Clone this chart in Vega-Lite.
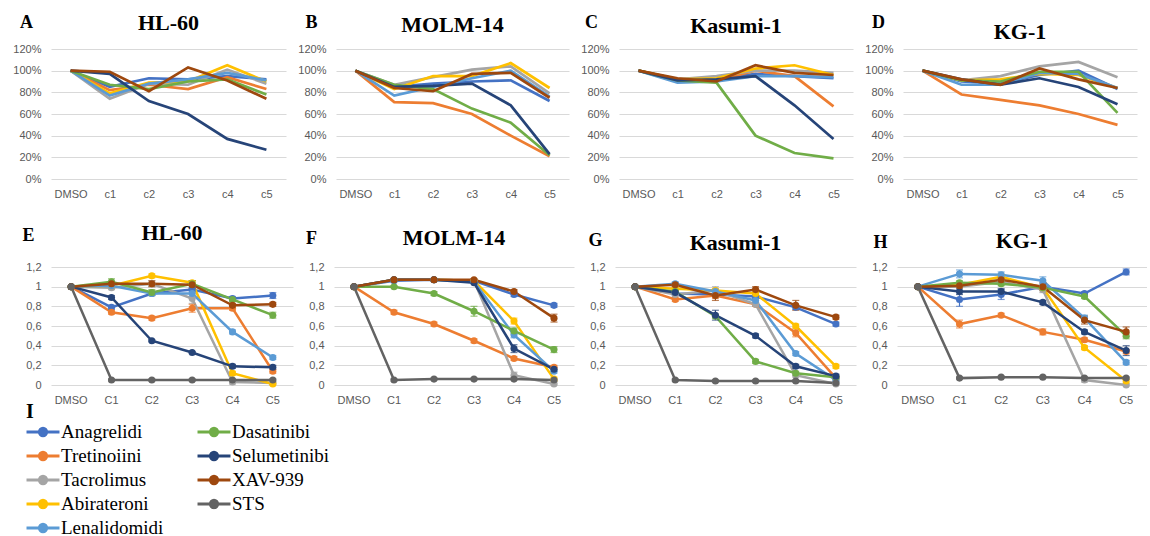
{
"$schema": "https://vega.github.io/schema/vega-lite/v6.json",
"padding": {"left": 12, "top": 12, "right": 0, "bottom": 0},
"background": "white",
"datasets": {
"top": [
{"p":"A","d":"Anagrelidi","c":"DMSO","v":1},{"p":"A","d":"Anagrelidi","c":"c1","v":0.85},{"p":"A","d":"Anagrelidi","c":"c2","v":0.93},{"p":"A","d":"Anagrelidi","c":"c3","v":0.92},{"p":"A","d":"Anagrelidi","c":"c4","v":0.95},{"p":"A","d":"Anagrelidi","c":"c5","v":0.92},
{"p":"A","d":"Tretinoiini","c":"DMSO","v":1},{"p":"A","d":"Tretinoiini","c":"c1","v":0.82},{"p":"A","d":"Tretinoiini","c":"c2","v":0.87},{"p":"A","d":"Tretinoiini","c":"c3","v":0.83},{"p":"A","d":"Tretinoiini","c":"c4","v":0.94},{"p":"A","d":"Tretinoiini","c":"c5","v":0.83},
{"p":"A","d":"Tacrolimus","c":"DMSO","v":1},{"p":"A","d":"Tacrolimus","c":"c1","v":0.74},{"p":"A","d":"Tacrolimus","c":"c2","v":0.88},{"p":"A","d":"Tacrolimus","c":"c3","v":0.87},{"p":"A","d":"Tacrolimus","c":"c4","v":1.01},{"p":"A","d":"Tacrolimus","c":"c5","v":0.88},
{"p":"A","d":"Abirateroni","c":"DMSO","v":1},{"p":"A","d":"Abirateroni","c":"c1","v":0.79},{"p":"A","d":"Abirateroni","c":"c2","v":0.89},{"p":"A","d":"Abirateroni","c":"c3","v":0.9},{"p":"A","d":"Abirateroni","c":"c4","v":1.05},{"p":"A","d":"Abirateroni","c":"c5","v":0.9},
{"p":"A","d":"Lenalidomidi","c":"DMSO","v":1},{"p":"A","d":"Lenalidomidi","c":"c1","v":0.77},{"p":"A","d":"Lenalidomidi","c":"c2","v":0.88},{"p":"A","d":"Lenalidomidi","c":"c3","v":0.92},{"p":"A","d":"Lenalidomidi","c":"c4","v":0.98},{"p":"A","d":"Lenalidomidi","c":"c5","v":0.91},
{"p":"A","d":"Dasatinibi","c":"DMSO","v":1},{"p":"A","d":"Dasatinibi","c":"c1","v":0.87},{"p":"A","d":"Dasatinibi","c":"c2","v":0.83},{"p":"A","d":"Dasatinibi","c":"c3","v":0.9},{"p":"A","d":"Dasatinibi","c":"c4","v":0.92},{"p":"A","d":"Dasatinibi","c":"c5","v":0.78},
{"p":"A","d":"Selumetinibi","c":"DMSO","v":1},{"p":"A","d":"Selumetinibi","c":"c1","v":0.97},{"p":"A","d":"Selumetinibi","c":"c2","v":0.72},{"p":"A","d":"Selumetinibi","c":"c3","v":0.6},{"p":"A","d":"Selumetinibi","c":"c4","v":0.37},{"p":"A","d":"Selumetinibi","c":"c5","v":0.27},
{"p":"A","d":"XAV-939","c":"DMSO","v":1},{"p":"A","d":"XAV-939","c":"c1","v":0.99},{"p":"A","d":"XAV-939","c":"c2","v":0.81},{"p":"A","d":"XAV-939","c":"c3","v":1.03},{"p":"A","d":"XAV-939","c":"c4","v":0.91},{"p":"A","d":"XAV-939","c":"c5","v":0.74},
{"p":"B","d":"Anagrelidi","c":"DMSO","v":1},{"p":"B","d":"Anagrelidi","c":"c1","v":0.85},{"p":"B","d":"Anagrelidi","c":"c2","v":0.88},{"p":"B","d":"Anagrelidi","c":"c3","v":0.9},{"p":"B","d":"Anagrelidi","c":"c4","v":0.91},{"p":"B","d":"Anagrelidi","c":"c5","v":0.72},
{"p":"B","d":"Tretinoiini","c":"DMSO","v":1},{"p":"B","d":"Tretinoiini","c":"c1","v":0.71},{"p":"B","d":"Tretinoiini","c":"c2","v":0.7},{"p":"B","d":"Tretinoiini","c":"c3","v":0.6},{"p":"B","d":"Tretinoiini","c":"c4","v":0.4},{"p":"B","d":"Tretinoiini","c":"c5","v":0.21},
{"p":"B","d":"Tacrolimus","c":"DMSO","v":1},{"p":"B","d":"Tacrolimus","c":"c1","v":0.87},{"p":"B","d":"Tacrolimus","c":"c2","v":0.94},{"p":"B","d":"Tacrolimus","c":"c3","v":1.01},{"p":"B","d":"Tacrolimus","c":"c4","v":1.04},{"p":"B","d":"Tacrolimus","c":"c5","v":0.79},
{"p":"B","d":"Abirateroni","c":"DMSO","v":1},{"p":"B","d":"Abirateroni","c":"c1","v":0.83},{"p":"B","d":"Abirateroni","c":"c2","v":0.95},{"p":"B","d":"Abirateroni","c":"c3","v":0.95},{"p":"B","d":"Abirateroni","c":"c4","v":1.07},{"p":"B","d":"Abirateroni","c":"c5","v":0.84},
{"p":"B","d":"Lenalidomidi","c":"DMSO","v":1},{"p":"B","d":"Lenalidomidi","c":"c1","v":0.77},{"p":"B","d":"Lenalidomidi","c":"c2","v":0.85},{"p":"B","d":"Lenalidomidi","c":"c3","v":0.93},{"p":"B","d":"Lenalidomidi","c":"c4","v":1.0},{"p":"B","d":"Lenalidomidi","c":"c5","v":0.76},
{"p":"B","d":"Dasatinibi","c":"DMSO","v":1},{"p":"B","d":"Dasatinibi","c":"c1","v":0.87},{"p":"B","d":"Dasatinibi","c":"c2","v":0.83},{"p":"B","d":"Dasatinibi","c":"c3","v":0.65},{"p":"B","d":"Dasatinibi","c":"c4","v":0.52},{"p":"B","d":"Dasatinibi","c":"c5","v":0.22},
{"p":"B","d":"Selumetinibi","c":"DMSO","v":1},{"p":"B","d":"Selumetinibi","c":"c1","v":0.85},{"p":"B","d":"Selumetinibi","c":"c2","v":0.86},{"p":"B","d":"Selumetinibi","c":"c3","v":0.88},{"p":"B","d":"Selumetinibi","c":"c4","v":0.68},{"p":"B","d":"Selumetinibi","c":"c5","v":0.23},
{"p":"B","d":"XAV-939","c":"DMSO","v":1},{"p":"B","d":"XAV-939","c":"c1","v":0.84},{"p":"B","d":"XAV-939","c":"c2","v":0.81},{"p":"B","d":"XAV-939","c":"c3","v":0.97},{"p":"B","d":"XAV-939","c":"c4","v":0.98},{"p":"B","d":"XAV-939","c":"c5","v":0.75},
{"p":"C","d":"Anagrelidi","c":"DMSO","v":1},{"p":"C","d":"Anagrelidi","c":"c1","v":0.9},{"p":"C","d":"Anagrelidi","c":"c2","v":0.92},{"p":"C","d":"Anagrelidi","c":"c3","v":0.97},{"p":"C","d":"Anagrelidi","c":"c4","v":0.95},{"p":"C","d":"Anagrelidi","c":"c5","v":0.93},
{"p":"C","d":"Tretinoiini","c":"DMSO","v":1},{"p":"C","d":"Tretinoiini","c":"c1","v":0.92},{"p":"C","d":"Tretinoiini","c":"c2","v":0.91},{"p":"C","d":"Tretinoiini","c":"c3","v":1.0},{"p":"C","d":"Tretinoiini","c":"c4","v":0.95},{"p":"C","d":"Tretinoiini","c":"c5","v":0.67},
{"p":"C","d":"Tacrolimus","c":"DMSO","v":1},{"p":"C","d":"Tacrolimus","c":"c1","v":0.92},{"p":"C","d":"Tacrolimus","c":"c2","v":0.95},{"p":"C","d":"Tacrolimus","c":"c3","v":1.0},{"p":"C","d":"Tacrolimus","c":"c4","v":1.0},{"p":"C","d":"Tacrolimus","c":"c5","v":0.98},
{"p":"C","d":"Abirateroni","c":"DMSO","v":1},{"p":"C","d":"Abirateroni","c":"c1","v":0.92},{"p":"C","d":"Abirateroni","c":"c2","v":0.93},{"p":"C","d":"Abirateroni","c":"c3","v":1.02},{"p":"C","d":"Abirateroni","c":"c4","v":1.05},{"p":"C","d":"Abirateroni","c":"c5","v":0.96},
{"p":"C","d":"Lenalidomidi","c":"DMSO","v":1},{"p":"C","d":"Lenalidomidi","c":"c1","v":0.89},{"p":"C","d":"Lenalidomidi","c":"c2","v":0.9},{"p":"C","d":"Lenalidomidi","c":"c3","v":0.95},{"p":"C","d":"Lenalidomidi","c":"c4","v":0.95},{"p":"C","d":"Lenalidomidi","c":"c5","v":0.94},
{"p":"C","d":"Dasatinibi","c":"DMSO","v":1},{"p":"C","d":"Dasatinibi","c":"c1","v":0.91},{"p":"C","d":"Dasatinibi","c":"c2","v":0.89},{"p":"C","d":"Dasatinibi","c":"c3","v":0.4},{"p":"C","d":"Dasatinibi","c":"c4","v":0.24},{"p":"C","d":"Dasatinibi","c":"c5","v":0.19},
{"p":"C","d":"Selumetinibi","c":"DMSO","v":1},{"p":"C","d":"Selumetinibi","c":"c1","v":0.91},{"p":"C","d":"Selumetinibi","c":"c2","v":0.92},{"p":"C","d":"Selumetinibi","c":"c3","v":0.95},{"p":"C","d":"Selumetinibi","c":"c4","v":0.68},{"p":"C","d":"Selumetinibi","c":"c5","v":0.37},
{"p":"C","d":"XAV-939","c":"DMSO","v":1},{"p":"C","d":"XAV-939","c":"c1","v":0.93},{"p":"C","d":"XAV-939","c":"c2","v":0.9},{"p":"C","d":"XAV-939","c":"c3","v":1.05},{"p":"C","d":"XAV-939","c":"c4","v":0.98},{"p":"C","d":"XAV-939","c":"c5","v":0.96},
{"p":"D","d":"Anagrelidi","c":"DMSO","v":1},{"p":"D","d":"Anagrelidi","c":"c1","v":0.9},{"p":"D","d":"Anagrelidi","c":"c2","v":0.88},{"p":"D","d":"Anagrelidi","c":"c3","v":0.96},{"p":"D","d":"Anagrelidi","c":"c4","v":1.0},{"p":"D","d":"Anagrelidi","c":"c5","v":0.83},
{"p":"D","d":"Tretinoiini","c":"DMSO","v":1},{"p":"D","d":"Tretinoiini","c":"c1","v":0.78},{"p":"D","d":"Tretinoiini","c":"c2","v":0.73},{"p":"D","d":"Tretinoiini","c":"c3","v":0.68},{"p":"D","d":"Tretinoiini","c":"c4","v":0.6},{"p":"D","d":"Tretinoiini","c":"c5","v":0.5},
{"p":"D","d":"Tacrolimus","c":"DMSO","v":1},{"p":"D","d":"Tacrolimus","c":"c1","v":0.91},{"p":"D","d":"Tacrolimus","c":"c2","v":0.95},{"p":"D","d":"Tacrolimus","c":"c3","v":1.04},{"p":"D","d":"Tacrolimus","c":"c4","v":1.08},{"p":"D","d":"Tacrolimus","c":"c5","v":0.94},
{"p":"D","d":"Abirateroni","c":"DMSO","v":1},{"p":"D","d":"Abirateroni","c":"c1","v":0.91},{"p":"D","d":"Abirateroni","c":"c2","v":0.92},{"p":"D","d":"Abirateroni","c":"c3","v":0.97},{"p":"D","d":"Abirateroni","c":"c4","v":0.96},{"p":"D","d":"Abirateroni","c":"c5","v":0.84},
{"p":"D","d":"Lenalidomidi","c":"DMSO","v":1},{"p":"D","d":"Lenalidomidi","c":"c1","v":0.87},{"p":"D","d":"Lenalidomidi","c":"c2","v":0.87},{"p":"D","d":"Lenalidomidi","c":"c3","v":0.98},{"p":"D","d":"Lenalidomidi","c":"c4","v":0.97},{"p":"D","d":"Lenalidomidi","c":"c5","v":0.84},
{"p":"D","d":"Dasatinibi","c":"DMSO","v":1},{"p":"D","d":"Dasatinibi","c":"c1","v":0.91},{"p":"D","d":"Dasatinibi","c":"c2","v":0.9},{"p":"D","d":"Dasatinibi","c":"c3","v":0.99},{"p":"D","d":"Dasatinibi","c":"c4","v":0.99},{"p":"D","d":"Dasatinibi","c":"c5","v":0.61},
{"p":"D","d":"Selumetinibi","c":"DMSO","v":1},{"p":"D","d":"Selumetinibi","c":"c1","v":0.92},{"p":"D","d":"Selumetinibi","c":"c2","v":0.87},{"p":"D","d":"Selumetinibi","c":"c3","v":0.93},{"p":"D","d":"Selumetinibi","c":"c4","v":0.85},{"p":"D","d":"Selumetinibi","c":"c5","v":0.69},
{"p":"D","d":"XAV-939","c":"DMSO","v":1},{"p":"D","d":"XAV-939","c":"c1","v":0.92},{"p":"D","d":"XAV-939","c":"c2","v":0.87},{"p":"D","d":"XAV-939","c":"c3","v":1.02},{"p":"D","d":"XAV-939","c":"c4","v":0.92},{"p":"D","d":"XAV-939","c":"c5","v":0.84}
],
"bot": [
{"p":"E","d":"Anagrelidi","c":"DMSO","v":1,"e":0},{"p":"E","d":"Anagrelidi","c":"C1","v":0.79,"e":0.02},{"p":"E","d":"Anagrelidi","c":"C2","v":0.93,"e":0.02},{"p":"E","d":"Anagrelidi","c":"C3","v":0.97,"e":0.02},{"p":"E","d":"Anagrelidi","c":"C4","v":0.88,"e":0.02},{"p":"E","d":"Anagrelidi","c":"C5","v":0.91,"e":0.03},
{"p":"E","d":"Tretinoiini","c":"DMSO","v":1,"e":0},{"p":"E","d":"Tretinoiini","c":"C1","v":0.74,"e":0.02},{"p":"E","d":"Tretinoiini","c":"C2","v":0.68,"e":0.02},{"p":"E","d":"Tretinoiini","c":"C3","v":0.78,"e":0.04},{"p":"E","d":"Tretinoiini","c":"C4","v":0.78,"e":0.02},{"p":"E","d":"Tretinoiini","c":"C5","v":0.14,"e":0.02},
{"p":"E","d":"Tacrolimus","c":"DMSO","v":1,"e":0},{"p":"E","d":"Tacrolimus","c":"C1","v":0.99,"e":0.02},{"p":"E","d":"Tacrolimus","c":"C2","v":1.03,"e":0.03},{"p":"E","d":"Tacrolimus","c":"C3","v":0.88,"e":0.05},{"p":"E","d":"Tacrolimus","c":"C4","v":0.03,"e":0.02},{"p":"E","d":"Tacrolimus","c":"C5","v":0.02,"e":0.01},
{"p":"E","d":"Abirateroni","c":"DMSO","v":1,"e":0},{"p":"E","d":"Abirateroni","c":"C1","v":1.01,"e":0.02},{"p":"E","d":"Abirateroni","c":"C2","v":1.11,"e":0.02},{"p":"E","d":"Abirateroni","c":"C3","v":1.04,"e":0.02},{"p":"E","d":"Abirateroni","c":"C4","v":0.12,"e":0.02},{"p":"E","d":"Abirateroni","c":"C5","v":0.01,"e":0.01},
{"p":"E","d":"Lenalidomidi","c":"DMSO","v":1,"e":0},{"p":"E","d":"Lenalidomidi","c":"C1","v":1.01,"e":0.02},{"p":"E","d":"Lenalidomidi","c":"C2","v":0.93,"e":0.02},{"p":"E","d":"Lenalidomidi","c":"C3","v":0.93,"e":0.03},{"p":"E","d":"Lenalidomidi","c":"C4","v":0.54,"e":0.02},{"p":"E","d":"Lenalidomidi","c":"C5","v":0.28,"e":0.02},
{"p":"E","d":"Dasatinibi","c":"DMSO","v":1,"e":0},{"p":"E","d":"Dasatinibi","c":"C1","v":1.05,"e":0.03},{"p":"E","d":"Dasatinibi","c":"C2","v":0.94,"e":0.03},{"p":"E","d":"Dasatinibi","c":"C3","v":1.03,"e":0.03},{"p":"E","d":"Dasatinibi","c":"C4","v":0.87,"e":0.02},{"p":"E","d":"Dasatinibi","c":"C5","v":0.71,"e":0.03},
{"p":"E","d":"Selumetinibi","c":"DMSO","v":1,"e":0},{"p":"E","d":"Selumetinibi","c":"C1","v":0.89,"e":0.02},{"p":"E","d":"Selumetinibi","c":"C2","v":0.45,"e":0.01},{"p":"E","d":"Selumetinibi","c":"C3","v":0.33,"e":0.01},{"p":"E","d":"Selumetinibi","c":"C4","v":0.19,"e":0.02},{"p":"E","d":"Selumetinibi","c":"C5","v":0.18,"e":0.02},
{"p":"E","d":"XAV-939","c":"DMSO","v":1,"e":0},{"p":"E","d":"XAV-939","c":"C1","v":1.03,"e":0.02},{"p":"E","d":"XAV-939","c":"C2","v":1.03,"e":0.03},{"p":"E","d":"XAV-939","c":"C3","v":1.02,"e":0.04},{"p":"E","d":"XAV-939","c":"C4","v":0.81,"e":0.02},{"p":"E","d":"XAV-939","c":"C5","v":0.82,"e":0.02},
{"p":"E","d":"STS","c":"DMSO","v":1,"e":0},{"p":"E","d":"STS","c":"C1","v":0.05,"e":0.01},{"p":"E","d":"STS","c":"C2","v":0.05,"e":0.01},{"p":"E","d":"STS","c":"C3","v":0.05,"e":0.01},{"p":"E","d":"STS","c":"C4","v":0.05,"e":0.01},{"p":"E","d":"STS","c":"C5","v":0.05,"e":0.01},
{"p":"F","d":"Anagrelidi","c":"DMSO","v":1,"e":0},{"p":"F","d":"Anagrelidi","c":"C1","v":1.06,"e":0.01},{"p":"F","d":"Anagrelidi","c":"C2","v":1.07,"e":0.01},{"p":"F","d":"Anagrelidi","c":"C3","v":1.06,"e":0.01},{"p":"F","d":"Anagrelidi","c":"C4","v":0.92,"e":0.02},{"p":"F","d":"Anagrelidi","c":"C5","v":0.81,"e":0.02},
{"p":"F","d":"Tretinoiini","c":"DMSO","v":1,"e":0},{"p":"F","d":"Tretinoiini","c":"C1","v":0.74,"e":0.02},{"p":"F","d":"Tretinoiini","c":"C2","v":0.62,"e":0.02},{"p":"F","d":"Tretinoiini","c":"C3","v":0.45,"e":0.02},{"p":"F","d":"Tretinoiini","c":"C4","v":0.27,"e":0.02},{"p":"F","d":"Tretinoiini","c":"C5","v":0.18,"e":0.02},
{"p":"F","d":"Tacrolimus","c":"DMSO","v":1,"e":0},{"p":"F","d":"Tacrolimus","c":"C1","v":1.07,"e":0.01},{"p":"F","d":"Tacrolimus","c":"C2","v":1.07,"e":0.01},{"p":"F","d":"Tacrolimus","c":"C3","v":1.06,"e":0.01},{"p":"F","d":"Tacrolimus","c":"C4","v":0.1,"e":0.03},{"p":"F","d":"Tacrolimus","c":"C5","v":0.01,"e":0.01},
{"p":"F","d":"Abirateroni","c":"DMSO","v":1,"e":0},{"p":"F","d":"Abirateroni","c":"C1","v":1.07,"e":0.01},{"p":"F","d":"Abirateroni","c":"C2","v":1.07,"e":0.01},{"p":"F","d":"Abirateroni","c":"C3","v":1.06,"e":0.01},{"p":"F","d":"Abirateroni","c":"C4","v":0.65,"e":0.03},{"p":"F","d":"Abirateroni","c":"C5","v":0.06,"e":0.02},
{"p":"F","d":"Lenalidomidi","c":"DMSO","v":1,"e":0},{"p":"F","d":"Lenalidomidi","c":"C1","v":1.07,"e":0.01},{"p":"F","d":"Lenalidomidi","c":"C2","v":1.07,"e":0.01},{"p":"F","d":"Lenalidomidi","c":"C3","v":1.05,"e":0.01},{"p":"F","d":"Lenalidomidi","c":"C4","v":0.51,"e":0.03},{"p":"F","d":"Lenalidomidi","c":"C5","v":0.14,"e":0.02},
{"p":"F","d":"Dasatinibi","c":"DMSO","v":1,"e":0},{"p":"F","d":"Dasatinibi","c":"C1","v":1.0,"e":0.01},{"p":"F","d":"Dasatinibi","c":"C2","v":0.93,"e":0.02},{"p":"F","d":"Dasatinibi","c":"C3","v":0.75,"e":0.05},{"p":"F","d":"Dasatinibi","c":"C4","v":0.55,"e":0.03},{"p":"F","d":"Dasatinibi","c":"C5","v":0.36,"e":0.03},
{"p":"F","d":"Selumetinibi","c":"DMSO","v":1,"e":0},{"p":"F","d":"Selumetinibi","c":"C1","v":1.07,"e":0.01},{"p":"F","d":"Selumetinibi","c":"C2","v":1.07,"e":0.01},{"p":"F","d":"Selumetinibi","c":"C3","v":1.04,"e":0.01},{"p":"F","d":"Selumetinibi","c":"C4","v":0.37,"e":0.04},{"p":"F","d":"Selumetinibi","c":"C5","v":0.16,"e":0.02},
{"p":"F","d":"XAV-939","c":"DMSO","v":1,"e":0},{"p":"F","d":"XAV-939","c":"C1","v":1.07,"e":0.01},{"p":"F","d":"XAV-939","c":"C2","v":1.07,"e":0.01},{"p":"F","d":"XAV-939","c":"C3","v":1.07,"e":0.01},{"p":"F","d":"XAV-939","c":"C4","v":0.95,"e":0.02},{"p":"F","d":"XAV-939","c":"C5","v":0.68,"e":0.04},
{"p":"F","d":"STS","c":"DMSO","v":1,"e":0},{"p":"F","d":"STS","c":"C1","v":0.05,"e":0.01},{"p":"F","d":"STS","c":"C2","v":0.06,"e":0.01},{"p":"F","d":"STS","c":"C3","v":0.06,"e":0.01},{"p":"F","d":"STS","c":"C4","v":0.06,"e":0.01},{"p":"F","d":"STS","c":"C5","v":0.05,"e":0.01},
{"p":"G","d":"Anagrelidi","c":"DMSO","v":1,"e":0},{"p":"G","d":"Anagrelidi","c":"C1","v":0.93,"e":0.02},{"p":"G","d":"Anagrelidi","c":"C2","v":0.92,"e":0.02},{"p":"G","d":"Anagrelidi","c":"C3","v":0.9,"e":0.02},{"p":"G","d":"Anagrelidi","c":"C4","v":0.79,"e":0.02},{"p":"G","d":"Anagrelidi","c":"C5","v":0.62,"e":0.02},
{"p":"G","d":"Tretinoiini","c":"DMSO","v":1,"e":0},{"p":"G","d":"Tretinoiini","c":"C1","v":0.87,"e":0.02},{"p":"G","d":"Tretinoiini","c":"C2","v":0.91,"e":0.03},{"p":"G","d":"Tretinoiini","c":"C3","v":0.82,"e":0.02},{"p":"G","d":"Tretinoiini","c":"C4","v":0.53,"e":0.04},{"p":"G","d":"Tretinoiini","c":"C5","v":0.07,"e":0.02},
{"p":"G","d":"Tacrolimus","c":"DMSO","v":1,"e":0},{"p":"G","d":"Tacrolimus","c":"C1","v":0.92,"e":0.02},{"p":"G","d":"Tacrolimus","c":"C2","v":0.96,"e":0.04},{"p":"G","d":"Tacrolimus","c":"C3","v":0.82,"e":0.02},{"p":"G","d":"Tacrolimus","c":"C4","v":0.1,"e":0.02},{"p":"G","d":"Tacrolimus","c":"C5","v":0.01,"e":0.01},
{"p":"G","d":"Abirateroni","c":"DMSO","v":1,"e":0},{"p":"G","d":"Abirateroni","c":"C1","v":0.98,"e":0.02},{"p":"G","d":"Abirateroni","c":"C2","v":0.96,"e":0.02},{"p":"G","d":"Abirateroni","c":"C3","v":0.93,"e":0.02},{"p":"G","d":"Abirateroni","c":"C4","v":0.6,"e":0.02},{"p":"G","d":"Abirateroni","c":"C5","v":0.19,"e":0.02},
{"p":"G","d":"Lenalidomidi","c":"DMSO","v":1,"e":0},{"p":"G","d":"Lenalidomidi","c":"C1","v":1.03,"e":0.02},{"p":"G","d":"Lenalidomidi","c":"C2","v":0.95,"e":0.02},{"p":"G","d":"Lenalidomidi","c":"C3","v":0.86,"e":0.02},{"p":"G","d":"Lenalidomidi","c":"C4","v":0.32,"e":0.02},{"p":"G","d":"Lenalidomidi","c":"C5","v":0.05,"e":0.01},
{"p":"G","d":"Dasatinibi","c":"DMSO","v":1,"e":0},{"p":"G","d":"Dasatinibi","c":"C1","v":0.95,"e":0.02},{"p":"G","d":"Dasatinibi","c":"C2","v":0.7,"e":0.02},{"p":"G","d":"Dasatinibi","c":"C3","v":0.24,"e":0.02},{"p":"G","d":"Dasatinibi","c":"C4","v":0.12,"e":0.02},{"p":"G","d":"Dasatinibi","c":"C5","v":0.08,"e":0.01},
{"p":"G","d":"Selumetinibi","c":"DMSO","v":1,"e":0},{"p":"G","d":"Selumetinibi","c":"C1","v":0.94,"e":0.02},{"p":"G","d":"Selumetinibi","c":"C2","v":0.71,"e":0.05},{"p":"G","d":"Selumetinibi","c":"C3","v":0.5,"e":0.02},{"p":"G","d":"Selumetinibi","c":"C4","v":0.19,"e":0.02},{"p":"G","d":"Selumetinibi","c":"C5","v":0.09,"e":0.02},
{"p":"G","d":"XAV-939","c":"DMSO","v":1,"e":0},{"p":"G","d":"XAV-939","c":"C1","v":1.02,"e":0.02},{"p":"G","d":"XAV-939","c":"C2","v":0.91,"e":0.05},{"p":"G","d":"XAV-939","c":"C3","v":0.97,"e":0.03},{"p":"G","d":"XAV-939","c":"C4","v":0.81,"e":0.05},{"p":"G","d":"XAV-939","c":"C5","v":0.69,"e":0.02},
{"p":"G","d":"STS","c":"DMSO","v":1,"e":0},{"p":"G","d":"STS","c":"C1","v":0.05,"e":0.01},{"p":"G","d":"STS","c":"C2","v":0.04,"e":0.01},{"p":"G","d":"STS","c":"C3","v":0.04,"e":0.01},{"p":"G","d":"STS","c":"C4","v":0.04,"e":0.01},{"p":"G","d":"STS","c":"C5","v":0.02,"e":0.01},
{"p":"H","d":"Anagrelidi","c":"DMSO","v":1,"e":0},{"p":"H","d":"Anagrelidi","c":"C1","v":0.87,"e":0.07},{"p":"H","d":"Anagrelidi","c":"C2","v":0.92,"e":0.05},{"p":"H","d":"Anagrelidi","c":"C3","v":1.0,"e":0.03},{"p":"H","d":"Anagrelidi","c":"C4","v":0.93,"e":0.02},{"p":"H","d":"Anagrelidi","c":"C5","v":1.15,"e":0.03},
{"p":"H","d":"Tretinoiini","c":"DMSO","v":1,"e":0},{"p":"H","d":"Tretinoiini","c":"C1","v":0.62,"e":0.04},{"p":"H","d":"Tretinoiini","c":"C2","v":0.71,"e":0.02},{"p":"H","d":"Tretinoiini","c":"C3","v":0.54,"e":0.03},{"p":"H","d":"Tretinoiini","c":"C4","v":0.46,"e":0.02},{"p":"H","d":"Tretinoiini","c":"C5","v":0.34,"e":0.02},
{"p":"H","d":"Tacrolimus","c":"DMSO","v":1,"e":0},{"p":"H","d":"Tacrolimus","c":"C1","v":1.0,"e":0.02},{"p":"H","d":"Tacrolimus","c":"C2","v":1.05,"e":0.02},{"p":"H","d":"Tacrolimus","c":"C3","v":0.97,"e":0.03},{"p":"H","d":"Tacrolimus","c":"C4","v":0.05,"e":0.02},{"p":"H","d":"Tacrolimus","c":"C5","v":0.0,"e":0.01},
{"p":"H","d":"Abirateroni","c":"DMSO","v":1,"e":0},{"p":"H","d":"Abirateroni","c":"C1","v":1.02,"e":0.02},{"p":"H","d":"Abirateroni","c":"C2","v":1.1,"e":0.02},{"p":"H","d":"Abirateroni","c":"C3","v":0.99,"e":0.02},{"p":"H","d":"Abirateroni","c":"C4","v":0.38,"e":0.02},{"p":"H","d":"Abirateroni","c":"C5","v":0.04,"e":0.02},
{"p":"H","d":"Lenalidomidi","c":"DMSO","v":1,"e":0},{"p":"H","d":"Lenalidomidi","c":"C1","v":1.13,"e":0.04},{"p":"H","d":"Lenalidomidi","c":"C2","v":1.12,"e":0.03},{"p":"H","d":"Lenalidomidi","c":"C3","v":1.06,"e":0.04},{"p":"H","d":"Lenalidomidi","c":"C4","v":0.68,"e":0.03},{"p":"H","d":"Lenalidomidi","c":"C5","v":0.23,"e":0.02},
{"p":"H","d":"Dasatinibi","c":"DMSO","v":1,"e":0},{"p":"H","d":"Dasatinibi","c":"C1","v":1.04,"e":0.02},{"p":"H","d":"Dasatinibi","c":"C2","v":1.03,"e":0.02},{"p":"H","d":"Dasatinibi","c":"C3","v":0.99,"e":0.02},{"p":"H","d":"Dasatinibi","c":"C4","v":0.9,"e":0.02},{"p":"H","d":"Dasatinibi","c":"C5","v":0.5,"e":0.03},
{"p":"H","d":"Selumetinibi","c":"DMSO","v":1,"e":0},{"p":"H","d":"Selumetinibi","c":"C1","v":0.95,"e":0.03},{"p":"H","d":"Selumetinibi","c":"C2","v":0.95,"e":0.03},{"p":"H","d":"Selumetinibi","c":"C3","v":0.84,"e":0.02},{"p":"H","d":"Selumetinibi","c":"C4","v":0.54,"e":0.02},{"p":"H","d":"Selumetinibi","c":"C5","v":0.35,"e":0.05},
{"p":"H","d":"XAV-939","c":"DMSO","v":1,"e":0},{"p":"H","d":"XAV-939","c":"C1","v":1.01,"e":0.02},{"p":"H","d":"XAV-939","c":"C2","v":1.07,"e":0.02},{"p":"H","d":"XAV-939","c":"C3","v":1.0,"e":0.04},{"p":"H","d":"XAV-939","c":"C4","v":0.66,"e":0.04},{"p":"H","d":"XAV-939","c":"C5","v":0.54,"e":0.05},
{"p":"H","d":"STS","c":"DMSO","v":1,"e":0},{"p":"H","d":"STS","c":"C1","v":0.07,"e":0.01},{"p":"H","d":"STS","c":"C2","v":0.08,"e":0.01},{"p":"H","d":"STS","c":"C3","v":0.08,"e":0.01},{"p":"H","d":"STS","c":"C4","v":0.07,"e":0.01},{"p":"H","d":"STS","c":"C5","v":0.07,"e":0.01}
]
},
"spacing": 23,
"resolve": {"legend": {"color": "independent"}},
"vconcat": [
{"hconcat": [
{"width": 235, "height": 130, "data": {"name": "top"}, "transform": [{"filter": "datum.p == 'A'"}],
 "title": {"text": "HL-60", "offset": -22},
 "mark": {"type": "line", "strokeWidth": 2.7},
 "encoding": {
  "x": {"field": "c", "type": "nominal", "sort": ["DMSO","c1","c2","c3","c4","c5"], "axis": {"title": null}},
  "y": {"field": "v", "type": "quantitative", "scale": {"domain": [0, 1.2], "nice": false}, "axis": {"title": "A", "format": ".0%", "values": [0,0.2,0.4,0.6,0.8,1,1.2], "titleX": -25, "titleY": -22}},
  "color": {"field": "d", "type": "nominal", "scale": {"domain": ["Anagrelidi","Tretinoiini","Tacrolimus","Abirateroni","Lenalidomidi","Dasatinibi","Selumetinibi","XAV-939","STS"], "range": ["#4472C4","#ED7D31","#A5A5A5","#FFC000","#5B9BD5","#70AD47","#264478","#9E480E","#636363"]}, "legend": null}
 }},
{"width": 233, "height": 130, "data": {"name": "top"}, "transform": [{"filter": "datum.p == 'B'"}],
 "title": {"text": "MOLM-14", "offset": -24},
 "mark": {"type": "line", "strokeWidth": 2.7},
 "encoding": {
  "x": {"field": "c", "type": "nominal", "sort": ["DMSO","c1","c2","c3","c4","c5"], "axis": {"title": null}},
  "y": {"field": "v", "type": "quantitative", "scale": {"domain": [0, 1.2], "nice": false}, "axis": {"title": "B", "format": ".0%", "values": [0,0.2,0.4,0.6,0.8,1,1.2], "titleX": -25, "titleY": -22}},
  "color": {"field": "d", "type": "nominal", "legend": null}
 }},
{"width": 234, "height": 130, "data": {"name": "top"}, "transform": [{"filter": "datum.p == 'C'"}],
 "title": {"text": "Kasumi-1", "offset": -25},
 "mark": {"type": "line", "strokeWidth": 2.7},
 "encoding": {
  "x": {"field": "c", "type": "nominal", "sort": ["DMSO","c1","c2","c3","c4","c5"], "axis": {"title": null}},
  "y": {"field": "v", "type": "quantitative", "scale": {"domain": [0, 1.2], "nice": false}, "axis": {"title": "C", "format": ".0%", "values": [0,0.2,0.4,0.6,0.8,1,1.2], "titleX": -28, "titleY": -22}},
  "color": {"field": "d", "type": "nominal", "legend": null}
 }},
{"width": 234, "height": 130, "data": {"name": "top"}, "transform": [{"filter": "datum.p == 'D'"}],
 "title": {"text": "KG-1", "offset": -31},
 "mark": {"type": "line", "strokeWidth": 2.7},
 "encoding": {
  "x": {"field": "c", "type": "nominal", "sort": ["DMSO","c1","c2","c3","c4","c5"], "axis": {"title": null}},
  "y": {"field": "v", "type": "quantitative", "scale": {"domain": [0, 1.2], "nice": false}, "axis": {"title": "D", "format": ".0%", "values": [0,0.2,0.4,0.6,0.8,1,1.2], "titleX": -25, "titleY": -22}},
  "color": {"field": "d", "type": "nominal", "legend": null}
 }}
], "spacing": 50, "bounds": "flush"},
{"hconcat": [
{"width": 242, "height": 118, "data": {"name": "bot"}, "transform": [{"filter": "datum.p == 'E'"}],
 "title": {"text": "HL-60", "offset": -19},
 "encoding": {
  "x": {"field": "c", "type": "nominal", "sort": ["DMSO","C1","C2","C3","C4","C5"], "axis": {"title": null}},
  "y": {"field": "v", "type": "quantitative", "scale": {"domain": [0, 1.2], "nice": false}, "axis": {"title": "E", "values": [0,0.2,0.4,0.6,0.8,1,1.2], "labelExpr": "replace(format(datum.value, '.1~f'), '.', ',')", "titleX": -23, "titleY": -27}},
  "color": {"field": "d", "type": "nominal", "title": "I",
   "legend": {"orient": "none", "legendX": -25, "legendY": 135, "symbolType": "M-2,0H2M-0.44,0A0.44,0.44,0,1,0,0.44,0A0.44,0.44,0,1,0,-0.44,0Z", "symbolSize": 272, "symbolOffset": 7, "labelOffset": 8, "columnPadding": 27, "labelFont": "Liberation Serif", "labelFontSize": 19, "labelColor": "black", "titleFont": "Liberation Serif", "titleFontSize": 20, "titleFontWeight": "bold", "titleColor": "black", "encode": {"symbols": {"update": {"fill": {"scale": "color", "field": "value"}, "stroke": {"scale": "color", "field": "value"}}}, "labels": {"update": {"font": {"value": "Liberation Serif"}}}}}}
 },
 "layer": [
  {"mark": {"type": "line", "strokeWidth": 2.5}},
  {"mark": {"type": "errorbar", "ticks": {"size": 7}, "thickness": 1.2}, "encoding": {"yError": {"field": "e"}}},
  {"mark": {"type": "point", "filled": true, "size": 50, "opacity": 1}}
 ]},
{"width": 240, "height": 118, "data": {"name": "bot"}, "transform": [{"filter": "datum.p == 'F'"}],
 "title": {"text": "MOLM-14", "offset": -21},
 "encoding": {
  "x": {"field": "c", "type": "nominal", "sort": ["DMSO","C1","C2","C3","C4","C5"], "axis": {"title": null}},
  "y": {"field": "v", "type": "quantitative", "scale": {"domain": [0, 1.2], "nice": false}, "axis": {"title": "F", "values": [0,0.2,0.4,0.6,0.8,1,1.2], "labelExpr": "replace(format(datum.value, '.1~f'), '.', ',')", "titleX": -23, "titleY": -24}},
  "color": {"field": "d", "type": "nominal", "legend": null}
 },
 "layer": [
  {"mark": {"type": "line", "strokeWidth": 2.5}},
  {"mark": {"type": "errorbar", "ticks": {"size": 7}, "thickness": 1.2}, "encoding": {"yError": {"field": "e"}}},
  {"mark": {"type": "point", "filled": true, "size": 50, "opacity": 1}}
 ]},
{"width": 241, "height": 118, "data": {"name": "bot"}, "transform": [{"filter": "datum.p == 'G'"}],
 "title": {"text": "Kasumi-1", "offset": -24},
 "encoding": {
  "x": {"field": "c", "type": "nominal", "sort": ["DMSO","C1","C2","C3","C4","C5"], "axis": {"title": null}},
  "y": {"field": "v", "type": "quantitative", "scale": {"domain": [0, 1.2], "nice": false}, "axis": {"title": "G", "values": [0,0.2,0.4,0.6,0.8,1,1.2], "labelExpr": "replace(format(datum.value, '.1~f'), '.', ',')", "titleX": -20, "titleY": -22}},
  "color": {"field": "d", "type": "nominal", "legend": null}
 },
 "layer": [
  {"mark": {"type": "line", "strokeWidth": 2.5}},
  {"mark": {"type": "errorbar", "ticks": {"size": 7}, "thickness": 1.2}, "encoding": {"yError": {"field": "e"}}},
  {"mark": {"type": "point", "filled": true, "size": 50, "opacity": 1}}
 ]},
{"width": 250, "height": 118, "data": {"name": "bot"}, "transform": [{"filter": "datum.p == 'H'"}],
 "title": {"text": "KG-1", "offset": -20},
 "encoding": {
  "x": {"field": "c", "type": "nominal", "sort": ["DMSO","C1","C2","C3","C4","C5"], "axis": {"title": null}},
  "y": {"field": "v", "type": "quantitative", "scale": {"domain": [0, 1.2], "nice": false}, "axis": {"title": "H", "values": [0,0.2,0.4,0.6,0.8,1,1.2], "labelExpr": "replace(format(datum.value, '.1~f'), '.', ',')", "titleX": -17, "titleY": -20}},
  "color": {"field": "d", "type": "nominal", "legend": null}
 },
 "layer": [
  {"mark": {"type": "line", "strokeWidth": 2.5}},
  {"mark": {"type": "errorbar", "ticks": {"size": 7}, "thickness": 1.2}, "encoding": {"yError": {"field": "e"}}},
  {"mark": {"type": "point", "filled": true, "size": 50, "opacity": 1}}
 ]}
], "spacing": 41, "bounds": "flush", "resolve": {"legend": {"color": "independent"}}}
],
"config": {
 "view": {"stroke": null},
 "title": {"font": "Liberation Serif", "fontSize": 22, "fontWeight": "bold", "color": "black", "anchor": "middle", "frame": "group"},
 "axis": {"labelFont": "Liberation Sans", "labelFontSize": 11, "labelColor": "#595959", "domain": false, "ticks": false, "gridColor": "#d9d9d9", "gridWidth": 1},
 "axisX": {"grid": false, "labelAngle": 0, "labelPadding": 9},
 "axisY": {"grid": true, "labelPadding": 10, "titleAngle": 0, "titleFont": "Liberation Serif", "titleFontSize": 18, "titleFontWeight": "bold", "titleColor": "black", "titleAlign": "center", "titleBaseline": "alphabetic"},
 "legend": {"columns": 2, "titleFont": "Liberation Serif", "titleFontSize": 20, "titleFontWeight": "bold", "titleColor": "black", "titlePadding": 0, "labelFont": "Liberation Serif", "labelFontSize": 19, "labelColor": "black", "symbolStrokeWidth": 3, "rowPadding": 4, "labelLimit": 300}
}
}
